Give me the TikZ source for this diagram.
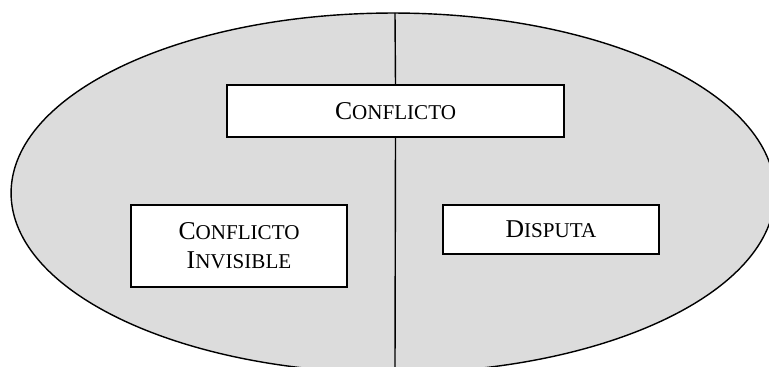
\documentclass[tikz,border=0pt]{standalone}
\usepackage{fontspec}
\setmainfont{Liberation Serif}
\newcommand{\capgrande}[1]{{\fontsize{14.6}{16.5}\selectfont #1}}
\newcommand{\capchica}[1]{{\fontsize{12}{16.5}\selectfont #1}}
\definecolor{fondo}{HTML}{DCDCDC}
\begin{document}
\begin{tikzpicture}[x=0.02cm, y=-0.02cm, line width=0.8pt,
		caja/.style = {draw, fill=white, inner sep=0pt, align=center, font=\fontsize{14.6}{16.5}\selectfont}]
		\useasboundingbox (0,0) rectangle (769,367);
		\clip (0,0) rectangle (769,367);
		\fill[fondo] (393,193) ellipse [x radius=7.64cm, y radius=3.6cm];
		\draw (393,193) ellipse [x radius=7.64cm, y radius=3.6cm];
		\node[caja, minimum width=6.74cm, minimum height=1.04cm] (conf) at (395.5,111) {\capgrande{C}\capchica{ONFLICTO}};
		\node[caja, minimum width=4.32cm, minimum height=1.64cm] (inv) at (239,246) {\capgrande{C}\capchica{ONFLICTO}\\ \capgrande{I}\capchica{NVISIBLE}};
		\node[caja, minimum width=4.32cm, minimum height=0.98cm] (disp) at (551,229.5) {\capgrande{D}\capchica{ISPUTA}};
		\coordinate (arriba) at (395,13);
		\coordinate (abajo) at (395,370);
		\path
		(arriba) edge (conf.north)
		(conf.south) edge (abajo);
	\end{tikzpicture}
\end{document}
